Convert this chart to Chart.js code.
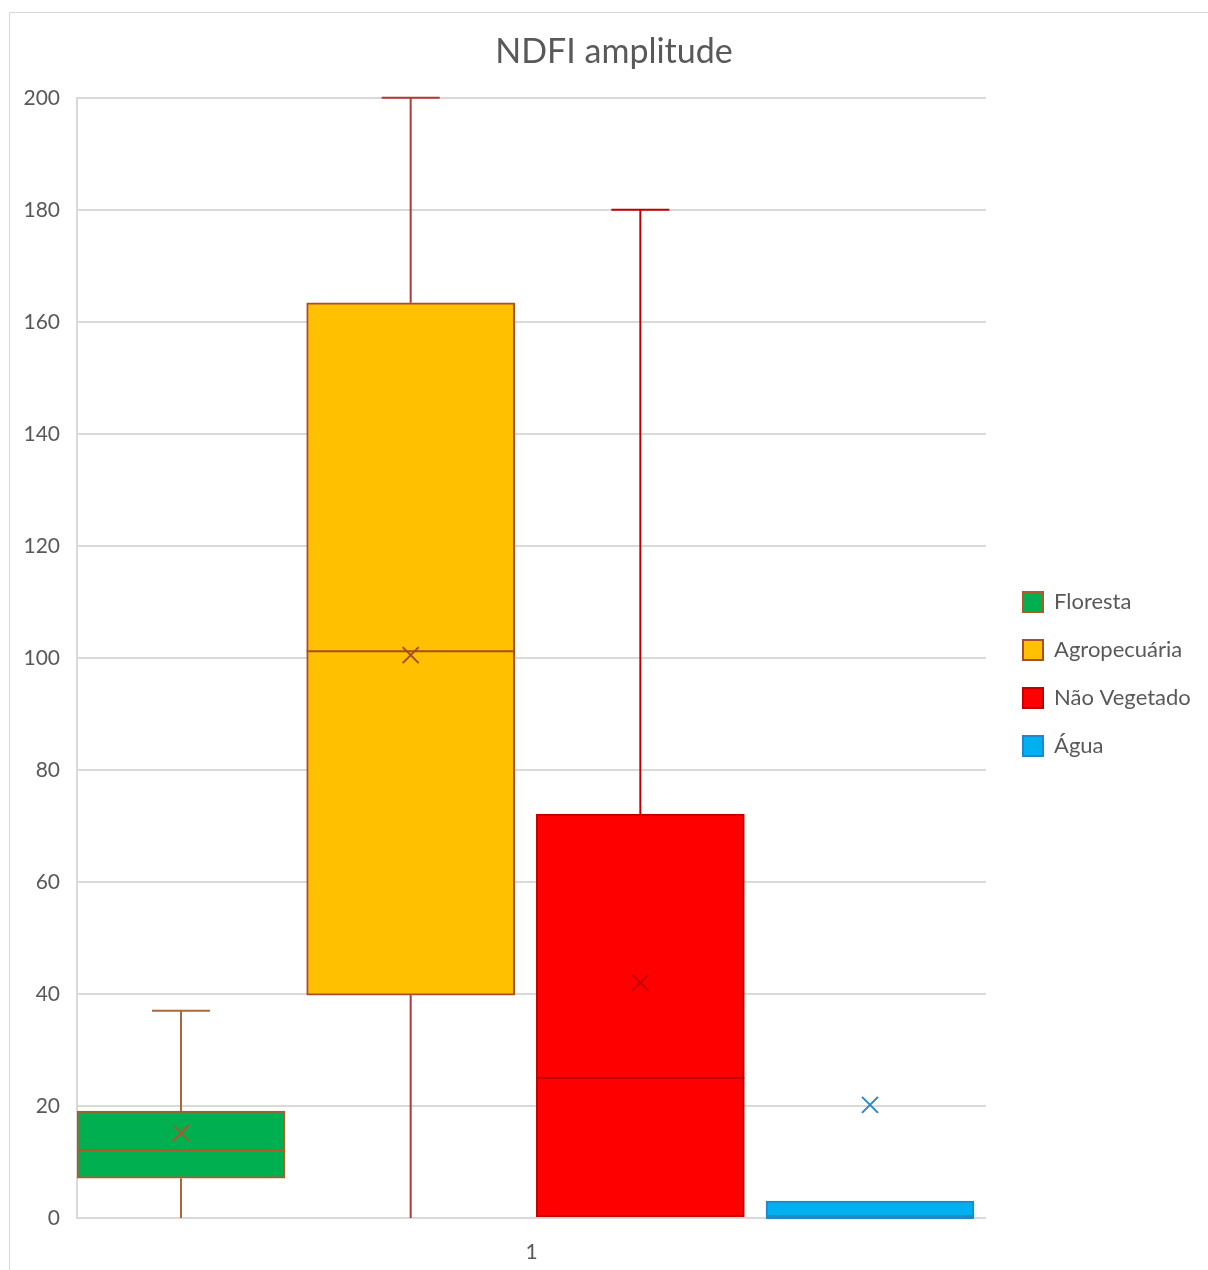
<!DOCTYPE html>
<html><head><meta charset="utf-8">
<script src="https://cdn.jsdelivr.net/npm/chart.js@4.4.1/dist/chart.umd.min.js"></script>
<style>
html,body{margin:0;padding:0;background:#fff;overflow:hidden;width:1208px;height:1270px;}
#frame{position:absolute;left:9px;top:12px;width:1260px;height:1340px;border:1px solid #D9D9D9;background:#fff;}
#c{position:absolute;left:0;top:0;}
</style></head><body>
<div id="frame"><canvas id="c" width="1208" height="1322"></canvas></div>
<script>
// ---- data ----
const categories = ['Floresta', 'Agropecuária', 'Não Vegetado', 'Água'];
const positions  = [1, 2, 3, 4];
const minimums   = [0, 0, 0, 0];
const quartile1  = [7.1, 39.8, 0, 0];
const medians    = [12.1, 101.2, 25, 0];
const quartile3  = [19.1, 163.4, 72.1, 3.0];
const maximums   = [37, 200, 180, 3];
const means      = [15.2, 100.5, 42, 20.2];
const xTickLabels = ['1'];
const yMin = 0, yMax = 200, yStep = 20;
const titleText = 'NDFI amplitude';

// ---- styles / layout ----
const FILL    = ['#00B050', '#FFC000', '#FF0000', '#00B0F0'];
const EDGE    = ['#AE5A2A', '#A64F28', '#C00000', '#1E88C8'];
const WHISKER = ['#A8683C', '#B03A36', '#C00000', '#1E88C8'];
const MEANCOL = ['#B0552A', '#A84A22', '#C80000', '#2E86C8'];
const FONT = 'Lato';
const TXT = '#595959';
const GRID = '#D9D9D9';
const PLOT_LEFT = 67, PLOT_RIGHT = 976, PLOT_BOTTOM = 1205;
const LEGEND_GAP = 11;
const X_MIN = 0.5472, X_MAX = 4.505;
const BOX_W = 208, CAP_HALF = 29, MEAN_HALF = 8;

const boxPlugin = {
  id: 'boxWhiskers',
  afterDatasetsDraw(chart) {
    const ctx = chart.ctx;
    const xs = chart.scales.x, ys = chart.scales.y;
    ctx.save();
    ctx.lineCap = 'butt';
    categories.forEach((c, i) => {
      const meta = chart.getDatasetMeta(i);
      const el = meta.data[0];
      const cx = xs.getPixelForValue(positions[i]);
      const half = el.width / 2;
      // whiskers
      ctx.strokeStyle = WHISKER[i];
      ctx.lineWidth = 2;
      if (minimums[i] < quartile1[i]) {
        ctx.beginPath();
        ctx.moveTo(cx, ys.getPixelForValue(quartile1[i]));
        ctx.lineTo(cx, ys.getPixelForValue(minimums[i]));
        ctx.stroke();
        if (minimums[i] > ys.min) {
          const yy = ys.getPixelForValue(minimums[i]);
          ctx.beginPath(); ctx.moveTo(cx - CAP_HALF, yy); ctx.lineTo(cx + CAP_HALF, yy); ctx.stroke();
        }
      }
      if (maximums[i] > quartile3[i]) {
        const yy = ys.getPixelForValue(maximums[i]);
        ctx.beginPath();
        ctx.moveTo(cx, ys.getPixelForValue(quartile3[i]));
        ctx.lineTo(cx, yy);
        ctx.stroke();
        ctx.beginPath(); ctx.moveTo(cx - CAP_HALF, yy); ctx.lineTo(cx + CAP_HALF, yy); ctx.stroke();
      }
      // median
      ctx.strokeStyle = EDGE[i];
      const ym = ys.getPixelForValue(medians[i]);
      ctx.beginPath(); ctx.moveTo(cx - half, ym); ctx.lineTo(cx + half, ym); ctx.stroke();
      // mean marker (x)
      const yv = ys.getPixelForValue(means[i]);
      ctx.strokeStyle = MEANCOL[i];
      ctx.lineWidth = 2;
      ctx.beginPath();
      ctx.moveTo(cx - MEAN_HALF, yv - MEAN_HALF); ctx.lineTo(cx + MEAN_HALF, yv + MEAN_HALF);
      ctx.moveTo(cx - MEAN_HALF, yv + MEAN_HALF); ctx.lineTo(cx + MEAN_HALF, yv - MEAN_HALF);
      ctx.stroke();
    });
    ctx.restore();
  }
};

const canvas = document.getElementById('c');
new Chart(canvas, {
  type: 'bar',
  data: {
    datasets: categories.map((name, i) => ({
      label: name,
      data: [{ x: positions[i], y: [quartile1[i], quartile3[i]] }],
      backgroundColor: FILL[i],
      borderColor: EDGE[i],
      borderWidth: 2,
      borderSkipped: false,
      barThickness: BOX_W,
      grouped: false
    }))
  },
  options: {
    responsive: false,
    animation: false,
    devicePixelRatio: 1,
    layout: { padding: 0 },
    plugins: {
      title: {
        display: true, text: titleText, color: TXT,
        font: { family: FONT, size: 34, weight: 'normal' },
        padding: { top: 19, bottom: 25 }
      },
      legend: {
        position: 'right', align: 'center', maxWidth: 400,
        labels: {
          boxWidth: 20, boxHeight: 20, padding: 26, color: TXT,
          font: { family: FONT, size: 22 }
        }
      },
      tooltip: { enabled: false }
    },
    scales: {
      x: {
        type: 'linear', display: false, offset: false, min: X_MIN, max: X_MAX,
        grid: { offset: false }
      },
      x2: {
        type: 'category', labels: xTickLabels, position: 'bottom', offset: true,
        grid: { display: false }, border: { display: false },
        ticks: { color: TXT, font: { family: FONT, size: 21 }, padding: 14 },
        afterFit: s => { s.height = s.chart.height - PLOT_BOTTOM; }
      },
      y: {
        type: 'linear', position: 'left', min: yMin, max: yMax,
        ticks: { stepSize: yStep, color: TXT, font: { family: FONT, size: 21 }, padding: 17 },
        grid: { color: GRID, lineWidth: 2, drawTicks: false },
        border: { display: true, color: GRID, width: 2 },
        afterFit: s => { s.width = PLOT_LEFT; }
      },
      gap: {
        type: 'linear', position: 'right', weight: 0,
        grid: { display: false }, border: { display: false }, ticks: { display: false },
        afterFit: s => { s.width = LEGEND_GAP; }
      },
      filler: {
        type: 'linear', position: 'right', weight: 2000,
        grid: { display: false }, border: { display: false }, ticks: { display: false },
        afterFit: s => {
          const lw = s.chart.legend ? s.chart.legend.width : 0;
          s.width = Math.max(0, s.chart.width - PLOT_RIGHT - LEGEND_GAP - lw);
        }
      }
    }
  },
  plugins: [boxPlugin]
});
</script>
</body></html>
